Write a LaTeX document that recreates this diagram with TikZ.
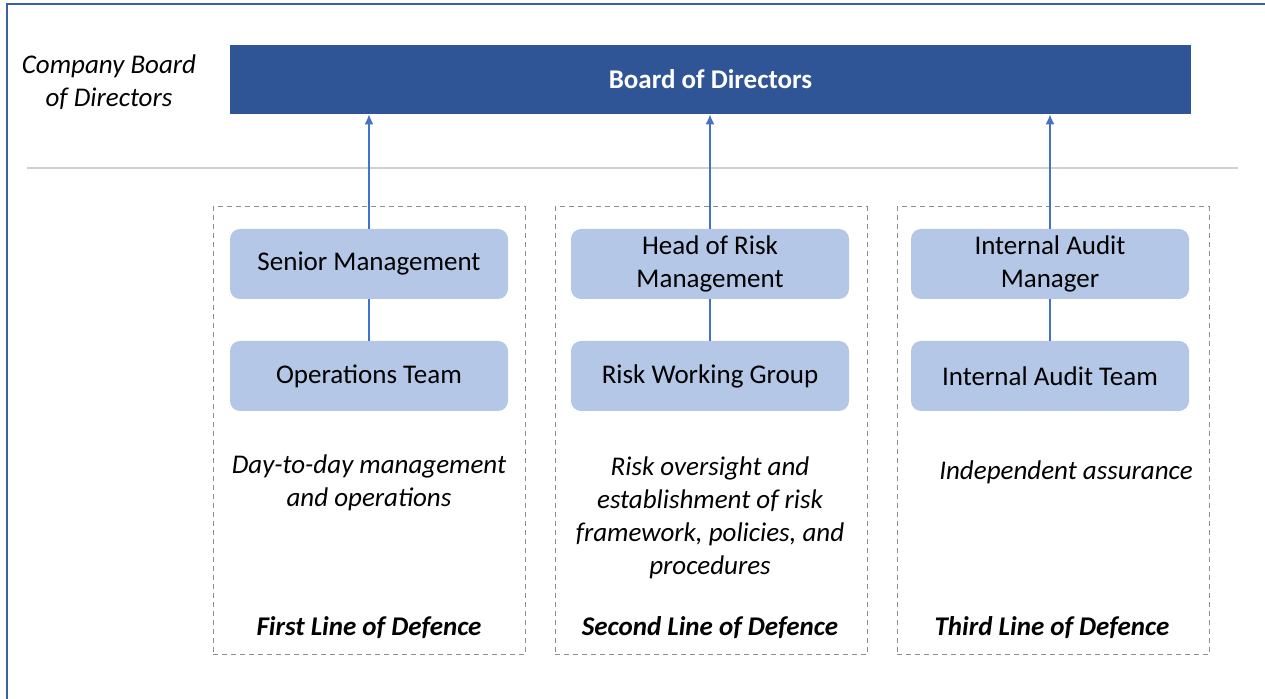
\documentclass[tikz,border=0pt]{standalone}
\usepackage{fontspec}
\setmainfont{Carlito}
\usetikzlibrary{arrows.meta,backgrounds}

\definecolor{boardblue}{HTML}{2F5597}
\definecolor{rolefill}{HTML}{B4C7E7}
\definecolor{linkblue}{HTML}{4472C4}
\definecolor{rulegray}{HTML}{D0D0D0}
\definecolor{dashgray}{HTML}{8C8C8C}

\begin{document}
\begin{tikzpicture}[x=0.5pt, y=-0.5pt,
  txt/.style={font=\fontsize{13.5}{16.5}\selectfont, align=center, inner sep=0pt},
  role/.style={txt, fill=rolefill, rounded corners=5pt, minimum width=139pt, minimum height=35pt},
  lane/.style={draw=dashgray, dash pattern=on 2.5pt off 2pt, line width=0.5pt, minimum width=156pt, minimum height=224pt, inner sep=0pt},
  note/.style={txt, font=\fontsize{13.5}{16.5}\selectfont\itshape},
  title/.style={txt, font=\fontsize{13.5}{16.5}\selectfont\bfseries\itshape},
  link/.style={color=linkblue, line width=0.7pt}
  ]
  \useasboundingbox (0,0) rectangle (1265,699);
  % outer frame and divider
  \draw[linkblue!85!black, line width=1pt] (7,760) |- (1300,4.5);
  \draw[rulegray, line width=0.7pt] (27,168) -- (1238,168);

  % board
  \node (board) [txt, fill=boardblue, text=white, font=\fontsize{13.5}{16.5}\selectfont\bfseries,
    minimum width=480.5pt, minimum height=34.5pt] at (710.5,79.5) {Board of Directors};
  \node (company) [note] at (109,82) {Company Board\\of Directors};

  % lanes
  \node (lane1) [lane] at (369,431) {};
  \node (lane2) [lane] at (711,431) {};
  \node (lane3) [lane] at (1053,431) {};

  % roles
  \node (senior) [role] at (369,264) {Senior Management};
  \node (ops)    [role] at (369,376) {Operations Team};
  \node (headrisk) [role] at (710,264) {Head of Risk\\Management};
  \node (riskgroup) [role] at (710,376) {Risk Working Group};
  \node (auditmgr) [role] at (1050,264) {Internal Audit\\Manager};
  \node (auditteam) [role] at (1050,376) {Internal Audit Team};

  % descriptions
  \node (desc1) [note] at (369,483) {Day-to-day management\\and operations};
  \node (desc2) [note] at (710,517.5) {Risk oversight and\\establishment of risk\\framework, policies, and\\procedures};
  \node (desc3) [note] at (1066,472) {Independent assurance};

  \node (first)  [title] at (369,628) {First Line of Defence};
  \node (second) [title] at (710,628) {Second Line of Defence};
  \node (third)  [title] at (1052,628) {Third Line of Defence};

  \path[link, -{Latex[length=5pt,width=4.5pt]}]
  (senior.north) edge (senior.north |- board.south)
  (headrisk.north) edge (headrisk.north |- board.south)
  (auditmgr.north) edge (auditmgr.north |- board.south)
  ;
  \path[link]
  (ops) edge (senior)
  (riskgroup) edge (headrisk)
  (auditteam) edge (auditmgr)
  ;
\end{tikzpicture}
\end{document}
